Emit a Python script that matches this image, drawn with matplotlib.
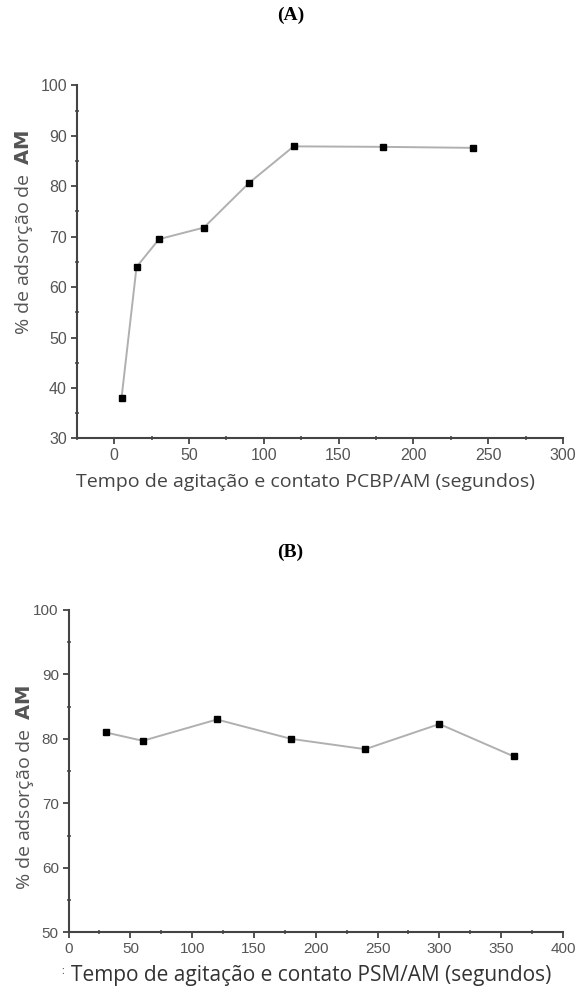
import matplotlib.pyplot as plt
from matplotlib.ticker import MultipleLocator

# panel A: PCBP/AM
tempo_a = [5, 15, 30, 60, 90, 120, 180, 240]
ads_a = [38.1, 64.0, 69.5, 71.8, 80.6, 87.9, 87.8, 87.6]

# panel B: PSM/AM
tempo_b = [30, 60, 120, 180, 240, 300, 360]
ads_b = [81.0, 79.7, 83.0, 80.0, 78.4, 82.3, 77.3]

xlabel_a = "Tempo de agitação e contato PCBP/AM (segundos)"
xlabel_b = "Tempo de agitação e contato PSM/AM (segundos)"
ylabel = "% de adsorção de  $\\mathbf{AM}$"

axis_col = "#444444"
text_col = "#555555"

fig = plt.figure(figsize=(5.81, 9.92), dpi=100)


def style_axes(ax, xmaj, xmin, ymaj, ymin, tsize):
    for s in ["top", "right"]:
        ax.spines[s].set_visible(False)
    for s in ["left", "bottom"]:
        ax.spines[s].set_color(axis_col)
        ax.spines[s].set_linewidth(1.5)
    ax.xaxis.set_major_locator(MultipleLocator(xmaj))
    ax.xaxis.set_minor_locator(MultipleLocator(xmin))
    ax.yaxis.set_major_locator(MultipleLocator(ymaj))
    ax.yaxis.set_minor_locator(MultipleLocator(ymin))
    ax.tick_params(which="major", direction="out", length=4, width=1.3,
                   color=axis_col, labelcolor=text_col, labelsize=tsize, pad=3)
    ax.tick_params(which="minor", direction="inout", length=3, width=1.1,
                   color=axis_col)
    for lab in ax.get_xticklabels() + ax.get_yticklabels():
        lab.set_family("Liberation Sans")


# (A)
ax1 = fig.add_axes([0.132, 0.558, 0.837, 0.356])
ax1.plot(tempo_a, ads_a, color="#b0b0b0", lw=1.4, marker="s", ms=4.5,
         mfc="black", mec="black", zorder=3)
ax1.set_xlim(-25, 300)
ax1.set_ylim(30, 100)
style_axes(ax1, 50, 25, 10, 5, 11.5)
ax1.set_xlabel(xlabel_a, family="Open Sans", fontsize=14, color="#444444")
ax1.xaxis.set_label_coords(0.47, -0.097)
ax1.set_ylabel(ylabel, family="Open Sans", fontsize=14, color=text_col)
ax1.yaxis.set_label_coords(-0.086, 0.583)
fig.text(0.5, 0.985, "(A)", ha="center", va="center", family="Liberation Serif",
         fontweight="bold", fontsize=14)

# (B)
ax2 = fig.add_axes([0.118, 0.060, 0.851, 0.3253])
ax2.plot(tempo_b, ads_b, color="#b0b0b0", lw=1.4, marker="s", ms=4.5,
         mfc="black", mec="black", zorder=3)
ax2.set_xlim(0, 400)
ax2.set_ylim(50, 100)
style_axes(ax2, 50, 25, 10, 5, 11)
ax2.set_xlabel(xlabel_b, family="Open Sans", fontsize=15, color="#333333")
ax2.xaxis.set_label_coords(0.49, -0.1)
ax2.set_ylabel(ylabel, family="Open Sans", fontsize=14, color=text_col)
ax2.yaxis.set_label_coords(-0.066, 0.45)
fig.text(0.5, 0.4435, "(B)", ha="center", va="center", family="Liberation Serif",
         fontweight="bold", fontsize=14)
# stray mark before the B axis title in the original
fig.text(0.108, 0.021, ":", ha="center", va="center", family="Open Sans",
         fontsize=7, color="#333333")

fig.savefig("out.png", dpi=100, facecolor="white")
